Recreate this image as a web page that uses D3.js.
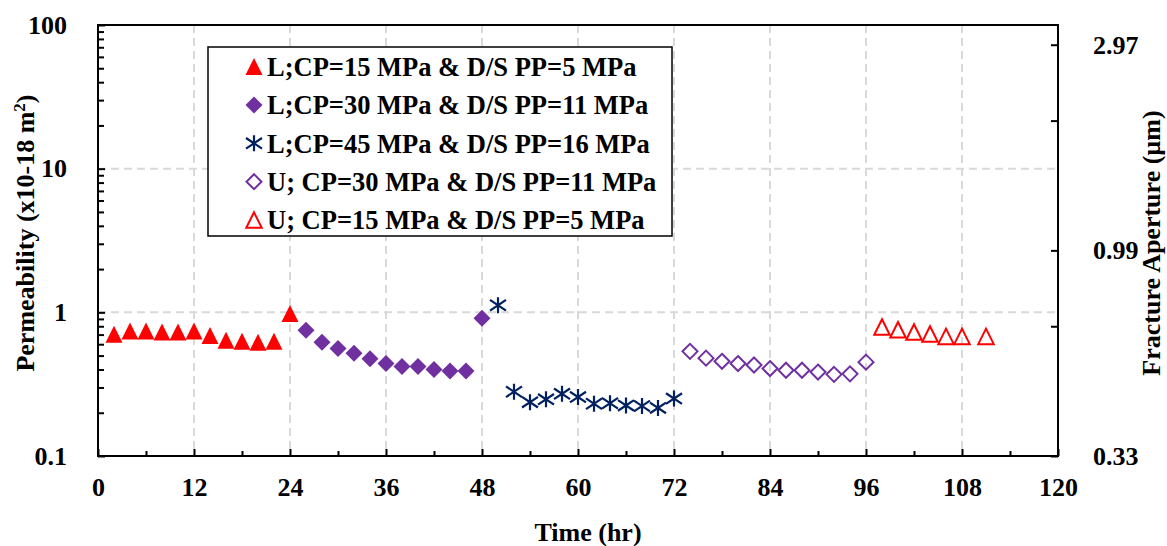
<!DOCTYPE html>
<html>
<head>
<meta charset="utf-8">
<script src="https://cdn.jsdelivr.net/npm/d3@7"></script>
<style>
  body { margin: 0; background: #fff; }
  text { font-family: "Liberation Serif", "Times New Roman", serif; font-weight: bold; fill: #000; }
</style>
</head>
<body>
<div id="chart"></div>
<script>
// time (hr) and permeability (x10-18 m2) per stage
const timeL15 = [2, 4, 6, 8, 10, 12, 14, 16, 18, 20, 22, 24];
const permL15 = [0.705, 0.74, 0.74, 0.73, 0.73, 0.74, 0.69, 0.64, 0.63, 0.62, 0.63, 0.98];
const timeL30 = [26, 28, 30, 32, 34, 36, 38, 40, 42, 44, 46, 48];
const permL30 = [0.75, 0.62, 0.56, 0.52, 0.475, 0.44, 0.42, 0.42, 0.40, 0.39, 0.39, 0.91];
const timeL45 = [50, 52, 54, 56, 58, 60, 62, 64, 66, 68, 70, 72];
const permL45 = [1.12, 0.28, 0.237, 0.248, 0.271, 0.257, 0.231, 0.233, 0.225, 0.223, 0.216, 0.251];
const timeU30 = [74, 76, 78, 80, 82, 84, 86, 88, 90, 92, 94, 96];
const permU30 = [0.535, 0.48, 0.456, 0.44, 0.43, 0.406, 0.395, 0.395, 0.384, 0.37, 0.373, 0.45];
const timeU15 = [98, 100, 102, 104, 106, 108, 111];
const permU15 = [0.79, 0.757, 0.73, 0.706, 0.68, 0.68, 0.68];

const seriesNames = [
  "L;CP=15 MPa & D/S PP=5 MPa",
  "L;CP=30 MPa & D/S PP=11 MPa",
  "L;CP=45 MPa & D/S PP=16 MPa",
  "U; CP=30 MPa & D/S PP=11 MPa",
  "U; CP=15 MPa & D/S PP=5 MPa"
];
const xTicks = [0, 12, 24, 36, 48, 60, 72, 84, 96, 108, 120];
const yTicks = [0.1, 1, 10, 100];
const apertureTicks = [0.33, 0.99, 2.97];
const apertureMinor = [0.66, 1.98];

const svg = d3.select("#chart").append("svg")
  .attr("width", 1167)
  .attr("height", 546);

const plot = { left: 98, right: 1058, top: 25, bottom: 456 };

const x = d3.scaleLinear().domain([0, 120]).range([plot.left, plot.right]);
const y = d3.scaleLog().domain([0.1, 100]).range([plot.bottom, plot.top]);
// aperture ~ k^(1/3): 0.33 um at k=0.1 and 3.3 um at k=100
const yA = d3.scaleLog().domain([0.33, 3.3]).range([plot.bottom, plot.top]);

// grid
const grid = svg.append("g")
  .attr("stroke", "#d9d9d9")
  .attr("stroke-width", 2)
  .attr("stroke-dasharray", "8,5");
xTicks.slice(1, -1).forEach(t => {
  grid.append("line").attr("x1", x(t)).attr("x2", x(t)).attr("y1", plot.top).attr("y2", plot.bottom);
});
[1, 10].forEach(v => {
  grid.append("line").attr("x1", plot.left).attr("x2", plot.right).attr("y1", y(v)).attr("y2", y(v));
});

// axes
svg.append("g").attr("transform", `translate(0,${plot.bottom})`)
  .call(d3.axisBottom(x).tickValues(xTicks).tickSize(-7).tickPadding(22).tickFormat(d3.format("d")));
svg.append("g").attr("transform", `translate(0,${plot.bottom})`)
  .call(d3.axisBottom(x).tickValues(d3.range(6, 120, 12)).tickSize(-5).tickFormat(""));

const minorY = [];
[0.1, 1, 10].forEach(b => { for (let i = 2; i <= 9; i++) minorY.push(b * i); });
svg.append("g").attr("transform", `translate(${plot.left},0)`)
  .call(d3.axisLeft(y).tickValues(minorY).tickSize(-6).tickFormat(""));
svg.append("g").attr("transform", `translate(${plot.left},0)`)
  .call(d3.axisLeft(y).tickValues(yTicks).tickSize(-7).tickPadding(31).tickFormat(d => String(d)));

svg.append("g").attr("transform", `translate(${plot.right},0)`)
  .call(d3.axisRight(yA).tickValues(apertureTicks.concat(apertureMinor)).tickSize(-7).tickPadding(35)
    .tickFormat(d => apertureTicks.includes(d) ? d3.format(".2f")(d) : ""));

svg.selectAll(".domain").remove();
svg.selectAll(".tick line").attr("stroke", "#000").attr("stroke-width", 2);
svg.selectAll(".tick text").attr("font-size", 26);

svg.append("rect")
  .attr("x", plot.left).attr("y", plot.top)
  .attr("width", plot.right - plot.left).attr("height", plot.bottom - plot.top)
  .attr("fill", "none").attr("stroke", "#000").attr("stroke-width", 2);

// marker shapes, centred on the bounding box
const markers = {
  tri: s => `M0,${-s / 2}L${s / 2},${s / 2}L${-s / 2},${s / 2}Z`,
  dia: s => `M0,${-s / 2}L${s / 2},0L0,${s / 2}L${-s / 2},0Z`,
  star: s => `M0,${-s / 2}V${s / 2}M${-s / 2},${-s / 3}L${s / 2},${s / 3}M${-s / 2},${s / 3}L${s / 2},${-s / 3}`
};

const series = [
  { t: timeL15, k: permL15, shape: "tri", size: 17, fill: "#ff0000", stroke: "none" },
  { t: timeL30, k: permL30, shape: "dia", size: 17, fill: "#7030a0", stroke: "none" },
  { t: timeL45, k: permL45, shape: "star", size: 16, fill: "none", stroke: "#002060" },
  { t: timeU30, k: permU30, shape: "dia", size: 15, fill: "none", stroke: "#7030a0" },
  { t: timeU15, k: permU15, shape: "tri", size: 15.5, fill: "none", stroke: "#ff0000" }
];

function drawMarker(g, s) {
  return g.append("path")
    .attr("d", markers[s.shape](s.size))
    .attr("fill", s.fill)
    .attr("stroke", s.stroke)
    .attr("stroke-width", s.shape === "star" ? 2.2 : 2);
}

series.forEach(s => {
  s.t.forEach((t, i) => {
    const g = svg.append("g").attr("transform", `translate(${x(t)},${y(s.k[i])})`);
    drawMarker(g, s);
  });
});

// legend
const legend = svg.append("g");
legend.append("rect")
  .attr("x", 208).attr("y", 47).attr("width", 464).attr("height", 189)
  .attr("fill", "#fff").attr("stroke", "#000").attr("stroke-width", 1.5);
seriesNames.forEach((name, i) => {
  const cy = 66.5 + i * 38.4;
  const g = legend.append("g").attr("transform", `translate(254,${cy})`);
  drawMarker(g, series[i]);
  legend.append("text")
    .attr("x", 267).attr("y", cy)
    .attr("dy", "0.35em")
    .attr("font-size", 26.5)
    .text(name);
});

// axis titles
svg.append("text")
  .attr("x", 588).attr("y", 541)
  .attr("text-anchor", "middle")
  .attr("font-size", 26)
  .text("Time (hr)");

const yTitle = svg.append("text")
  .attr("transform", "translate(34,233) rotate(-90)")
  .attr("text-anchor", "middle")
  .attr("font-size", 26);
yTitle.append("tspan").text("Permeability (x10-18 m");
yTitle.append("tspan").attr("dy", -9).attr("font-size", 17).text("2");
yTitle.append("tspan").attr("dy", 9).text(")");

svg.append("text")
  .attr("transform", "translate(1160,243) rotate(-90)")
  .attr("text-anchor", "middle")
  .attr("font-size", 26)
  .text("Fracture Aperture (\u00b5m)");
</script>
</body>
</html>
